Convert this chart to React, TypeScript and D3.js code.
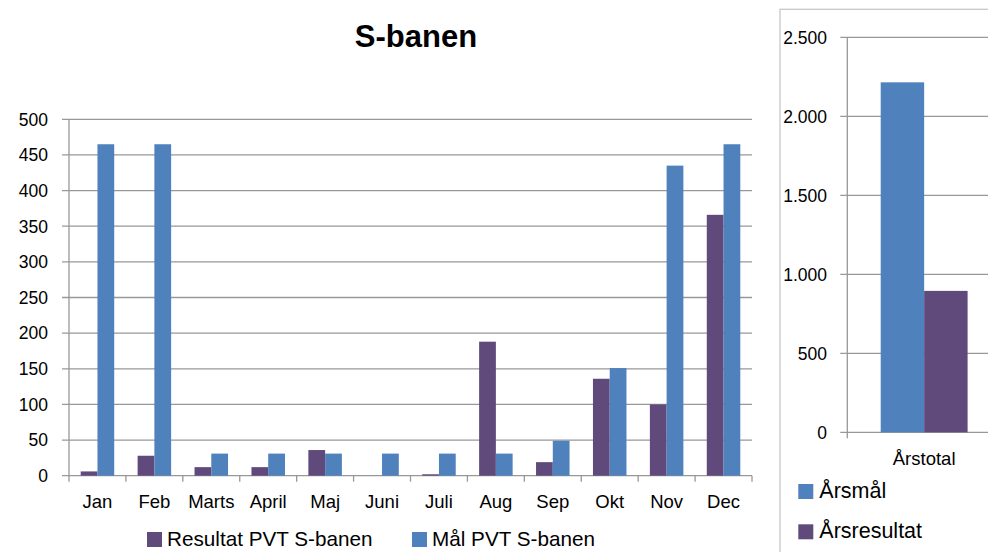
import * as d3 from "d3";
import React, { useEffect, useRef } from "react";

const months = ["Jan", "Feb", "Marts", "April", "Maj", "Juni", "Juli", "Aug", "Sep", "Okt", "Nov", "Dec"];
const resultat = [6, 28, 12, 12, 36, 0, 2, 188, 19, 136, 100, 366];
const maal = [465, 465, 31, 31, 31, 31, 31, 31, 49, 151, 435, 465];
const leftTicks = [0, 50, 100, 150, 200, 250, 300, 350, 400, 450, 500];

const totalCats = ["Årstotal"];
const aarsmaal = [2215];
const aarsresultat = [895];
const rightTicks = [0, 500, 1000, 1500, 2000, 2500];

const PURPLE = "#604a7b";
const BLUE = "#4f81bd";
const GRID = "#989898";
const FONT = "'Liberation Sans', Arial, sans-serif";

export default function App() {
  const svgRef = useRef<SVGSVGElement>(null);

  useEffect(() => {
    const svg = d3.select(svgRef.current);
    svg.selectAll("*").remove();

    svg.append("rect").attr("width", 988).attr("height", 552).attr("fill", "#fff");

    // ---------- left chart: monthly ----------
    const left = 69, right = 752, top = 119.3, bottom = 475.7;
    const x0 = d3.scaleBand<string>().domain(months).range([left, right]);
    const bw = x0.bandwidth();
    const x1 = d3.scaleBand<string>().domain(["res", "maal"]).range([11.7, bw - 11.7]);
    const y = d3.scaleLinear().domain([0, 500]).range([bottom, top]);

    const g = svg.append("g");

    // grid + ticks
    leftTicks.forEach(t => {
      g.append("line")
        .attr("x1", left - 7).attr("x2", right)
        .attr("y1", y(t)).attr("y2", y(t))
        .attr("stroke", GRID).attr("stroke-width", 1.3);
      g.append("text")
        .attr("x", 48).attr("y", y(t)).attr("dy", "0.36em")
        .attr("text-anchor", "end")
        .style("font-family", FONT).style("font-size", "17.5px")
        .text(t);
    });

    // y axis line
    g.append("line")
      .attr("x1", left).attr("x2", left).attr("y1", top).attr("y2", bottom)
      .attr("stroke", GRID).attr("stroke-width", 1.3);

    // category ticks
    [...months.map(m => x0(m)!), right].forEach(px => {
      g.append("line")
        .attr("x1", px).attr("x2", px).attr("y1", bottom).attr("y2", bottom + 6)
        .attr("stroke", GRID).attr("stroke-width", 1.3);
    });

    // bars
    months.forEach((m, i) => {
      const bx = x0(m)!;
      g.append("rect")
        .attr("x", bx + x1("res")!).attr("width", x1.bandwidth())
        .attr("y", y(resultat[i])).attr("height", y(0) - y(resultat[i]))
        .attr("fill", PURPLE);
      g.append("rect")
        .attr("x", bx + x1("maal")!).attr("width", x1.bandwidth())
        .attr("y", y(maal[i])).attr("height", y(0) - y(maal[i]))
        .attr("fill", BLUE);
      g.append("text")
        .attr("x", bx + bw / 2).attr("y", 507.5)
        .attr("text-anchor", "middle")
        .style("font-family", FONT).style("font-size", "18.5px")
        .text(m);
    });

    // title
    svg.append("text")
      .attr("x", 416).attr("y", 47)
      .attr("text-anchor", "middle")
      .style("font-family", FONT).style("font-size", "31px").style("font-weight", "bold")
      .text("S-banen");

    // legend
    const legL = [
      { label: "Resultat PVT S-banen", color: PURPLE, x: 147 },
      { label: "Mål PVT S-banen", color: BLUE, x: 412 },
    ];
    legL.forEach(d => {
      svg.append("rect").attr("x", d.x).attr("y", 532).attr("width", 15).attr("height", 15).attr("fill", d.color);
      svg.append("text")
        .attr("x", d.x + 20).attr("y", 546)
        .style("font-family", FONT).style("font-size", "20.7px")
        .text(d.label);
    });

    // ---------- right chart: year total ----------
    svg.append("rect")
      .attr("x", 780).attr("y", 9.3).attr("width", 300).attr("height", 600)
      .attr("fill", "none").attr("stroke", "#c8c8c8").attr("stroke-width", 1.3);

    const rLeft = 847.3, rRight = 1001, rTop = 37.3, rBottom = 432.3;
    const xr0 = d3.scaleBand<string>().domain(totalCats).range([rLeft, rRight]);
    const rbw = xr0.bandwidth();
    const xr1 = d3.scaleBand<string>().domain(["maal", "res"]).range([33.4, rbw - 33.4]);
    const yr = d3.scaleLinear().domain([0, 2500]).range([rBottom, rTop]);
    const fmt = d3.formatLocale({ decimal: ",", thousands: ".", grouping: [3], currency: ["", ""] }).format(",");

    const gr = svg.append("g");
    rightTicks.forEach(t => {
      gr.append("line")
        .attr("x1", rLeft - 7).attr("x2", rRight)
        .attr("y1", yr(t)).attr("y2", yr(t))
        .attr("stroke", GRID).attr("stroke-width", 1.3);
      gr.append("text")
        .attr("x", 827).attr("y", yr(t)).attr("dy", "0.36em")
        .attr("text-anchor", "end")
        .style("font-family", FONT).style("font-size", "17.5px")
        .text(fmt(t));
    });
    gr.append("line")
      .attr("x1", rLeft).attr("x2", rLeft).attr("y1", rTop).attr("y2", rBottom + 6)
      .attr("stroke", GRID).attr("stroke-width", 1.3);

    totalCats.forEach((c, i) => {
      const bx = xr0(c)!;
      gr.append("rect")
        .attr("x", bx + xr1("maal")!).attr("width", xr1.bandwidth())
        .attr("y", yr(aarsmaal[i])).attr("height", yr(0) - yr(aarsmaal[i]))
        .attr("fill", BLUE);
      gr.append("rect")
        .attr("x", bx + xr1("res")!).attr("width", xr1.bandwidth())
        .attr("y", yr(aarsresultat[i])).attr("height", yr(0) - yr(aarsresultat[i]))
        .attr("fill", PURPLE);
      gr.append("text")
        .attr("x", bx + rbw / 2).attr("y", 465)
        .attr("text-anchor", "middle")
        .style("font-family", FONT).style("font-size", "18.5px")
        .text(c);
    });

    const legR = [
      { label: "Årsmål", color: BLUE, y: 484 },
      { label: "Årsresultat", color: PURPLE, y: 524.3 },
    ];
    legR.forEach(d => {
      svg.append("rect").attr("x", 798.3).attr("y", d.y).attr("width", 15).attr("height", 15).attr("fill", d.color);
      svg.append("text")
        .attr("x", 819.3).attr("y", d.y + 13.5)
        .style("font-family", FONT).style("font-size", "21.5px")
        .text(d.label);
    });
  }, []);

  return (
    <svg
      ref={svgRef}
      width={988}
      height={552}
      style={{ position: "absolute", left: 0, top: 0, display: "block" }}
    ></svg>
  );
}
